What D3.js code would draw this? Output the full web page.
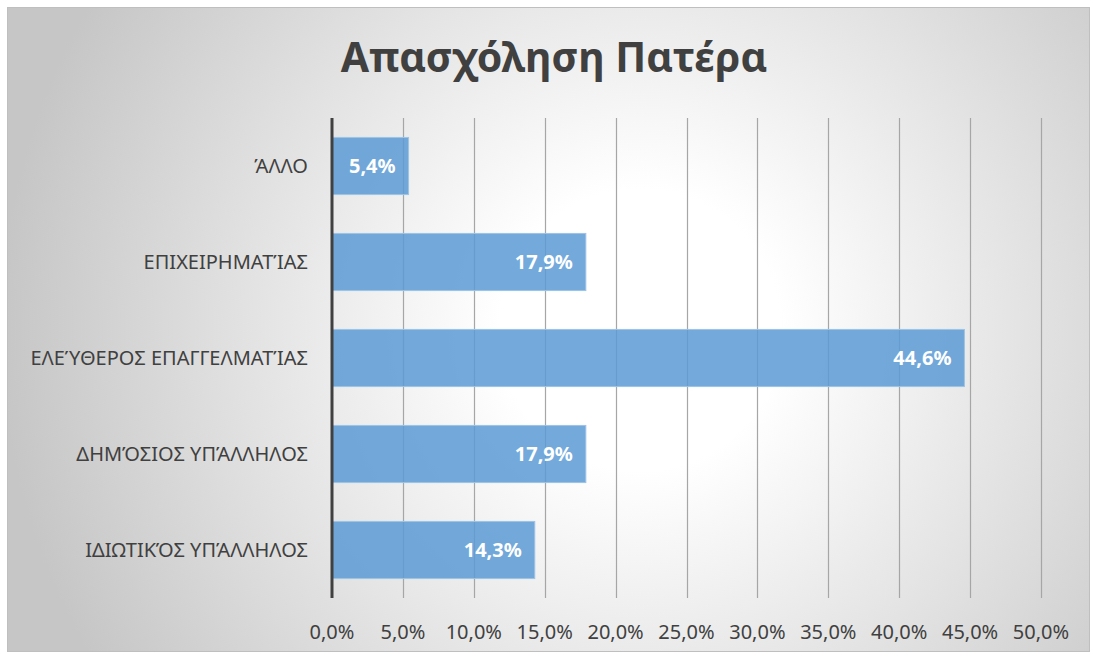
<!DOCTYPE html>
<html>
<head>
<meta charset="utf-8">
<script src="https://cdn.jsdelivr.net/npm/d3@7"></script>
<style>
  body { margin: 0; background: #fff; }
  svg { display: block; font-family: "Noto Sans", "Open Sans", sans-serif; }
</style>
</head>
<body>
<div id="canvas"></div>
<script>
// chart data
var categories = ["ΆΛΛΟ", "ΕΠΙΧΕΙΡΗΜΑΤΊΑΣ", "ΕΛΕΎΘΕΡΟΣ ΕΠΑΓΓΕΛΜΑΤΊΑΣ", "ΔΗΜΌΣΙΟΣ ΥΠΆΛΛΗΛΟΣ", "ΙΔΙΩΤΙΚΌΣ ΥΠΆΛΛΗΛΟΣ"];
var values = [5.4, 17.9, 44.6, 17.9, 14.3];
var tickValues = [0, 5, 10, 15, 20, 25, 30, 35, 40, 45, 50];
var title = "Απασχόληση Πατέρα";

var W = 1093, H = 658;
var margin = { top: 118, right: 52, bottom: 60, left: 332 };
var fmt = function(v) { return v.toFixed(1).replace(".", ",") + "%"; };

var svg = d3.select("#canvas").append("svg")
  .attr("width", W)
  .attr("height", H);

// background gradient
var defs = svg.append("defs");
var grad = defs.append("radialGradient")
  .attr("id", "bg")
  .attr("gradientUnits", "userSpaceOnUse")
  .attr("cx", 640).attr("cy", 330).attr("r", 640);
grad.append("stop").attr("offset", "0%").attr("stop-color", "#ffffff");
grad.append("stop").attr("offset", "22%").attr("stop-color", "#ffffff");
grad.append("stop").attr("offset", "100%").attr("stop-color", "#c6c6c6");

svg.append("rect")
  .attr("x", 7.5).attr("y", 7.5)
  .attr("width", W - 11).attr("height", H - 14)
  .attr("fill", "url(#bg)")
  .attr("stroke", "#bfbfbf")
  .attr("stroke-width", 1);

var width = 1041 - margin.left,
  height = 598 - margin.top;

var x = d3.scaleLinear().domain([0, 50]).range([0, width]);
var y = d3.scaleBand().domain(categories).range([0, height]).paddingInner(0.405).paddingOuter(0.2025);

var g = svg.append("g").attr("transform", "translate(" + margin.left + "," + margin.top + ")");

// gridlines
g.selectAll(".grid")
  .data(tickValues.slice(1))
  .enter().append("line")
  .attr("class", "grid")
  .attr("x1", function(d) { return Math.round(x(d)) + 0.5; })
  .attr("x2", function(d) { return Math.round(x(d)) + 0.5; })
  .attr("y1", 0).attr("y2", height)
  .attr("stroke", "#a6a6a6")
  .attr("stroke-width", 1.2);

// bars
g.selectAll(".bar")
  .data(values)
  .enter().append("rect")
  .attr("class", "bar")
  .attr("x", 0)
  .attr("y", function(d, i) { return y(categories[i]); })
  .attr("width", function(d) { return x(d); })
  .attr("height", y.bandwidth())
  .attr("fill", "#5b9bd5")
  .attr("fill-opacity", 0.85)
  .attr("stroke", "#9dc3e6")
  .attr("stroke-width", 1);

// value labels
g.selectAll(".val")
  .data(values)
  .enter().append("text")
  .attr("class", "val")
  .attr("x", function(d) { return x(d) - 13; })
  .attr("y", function(d, i) { return y(categories[i]) + y.bandwidth() / 2; })
  .attr("dy", "0.35em")
  .attr("text-anchor", "end")
  .attr("fill", "#ffffff")
  .attr("font-weight", "bold")
  .attr("font-size", 20)
  .text(fmt);

// y axis line
g.append("line")
  .attr("x1", 0).attr("x2", 0)
  .attr("y1", 0).attr("y2", height)
  .attr("stroke", "#404040")
  .attr("stroke-width", 3);

// category labels
g.selectAll(".cat")
  .data(categories)
  .enter().append("text")
  .attr("class", "cat")
  .attr("x", -24)
  .attr("y", function(d) { return y(d) + y.bandwidth() / 2; })
  .attr("dy", "0.35em")
  .attr("text-anchor", "end")
  .attr("fill", "#404040")
  .attr("font-size", 20)
  .text(function(d) { return d; });

// x tick labels
g.selectAll(".tick-lbl")
  .data(tickValues)
  .enter().append("text")
  .attr("class", "tick-lbl")
  .attr("x", function(d) { return x(d); })
  .attr("y", height + 34)
  .attr("dy", "0.35em")
  .attr("text-anchor", "middle")
  .attr("fill", "#404040")
  .attr("font-size", 20)
  .text(function(d) { return fmt(d); });

// title
svg.append("text")
  .attr("x", 554)
  .attr("y", 58)
  .attr("dy", "0.35em")
  .attr("text-anchor", "middle")
  .attr("fill", "#404040")
  .attr("font-weight", "bold")
  .attr("font-size", 41)
  .text(title);
</script>
</body>
</html>
